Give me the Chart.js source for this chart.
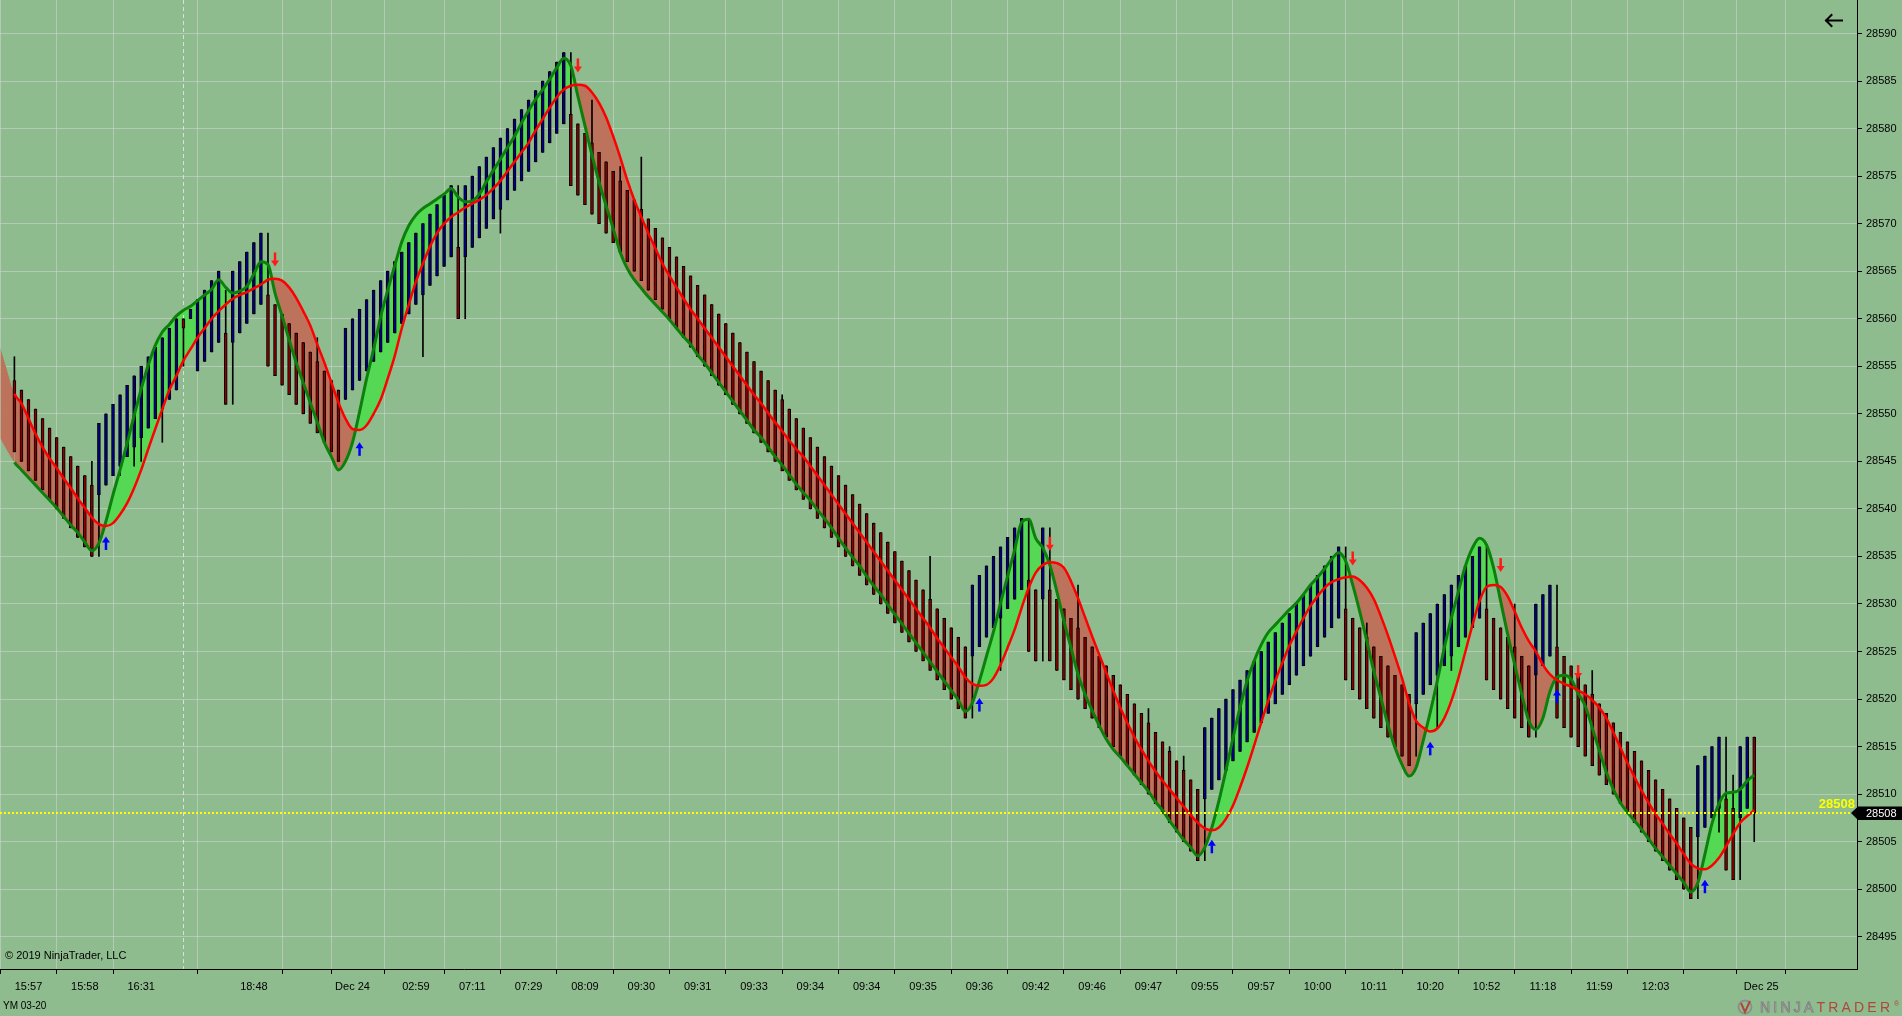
<!DOCTYPE html>
<html><head><meta charset="utf-8">
<script src="https://cdn.jsdelivr.net/npm/chart.js@4.4.1/dist/chart.umd.min.js"></script>
<style>html,body{margin:0;padding:0;background:#8FBC8F;overflow:hidden}#wrap{width:1902px;height:1016px}canvas{display:block}</style>
</head><body><div id="wrap"><canvas id="c" width="1902" height="1016"></canvas></div>
<script>
// ---------- DATA ----------
const barOpen=[28553.5,28552.5,28551.5,28550.5,28549.5,28548.5,28547.5,28546.5,28545.5,28544.5,
28543.5,28542.5,28541.5,28542.5,28543.5,28544.5,28545.5,28546.5,28547.5,28548.5,
28549.5,28550.5,28551.5,28552.5,28560,28560,28554.5,28555.5,28556.5,28557.5,
28558.5,28557.5,28558.5,28559.5,28560.5,28561.5,28562.5,28561.5,28560.5,28559.5,
28558.5,28557.5,28556.5,28555.5,28554.5,28553.5,28552.5,28551.5,28552.5,28553.5,
28554.5,28555.5,28556.5,28557.5,28558.5,28559.5,28560.5,28561.5,28562.5,28563.5,
28564.5,28565.5,28566.5,28567.5,28566.5,28567.5,28568.5,28569.5,28570.5,28571.5,
28572.5,28573.5,28574.5,28575.5,28576.5,28577.5,28578.5,28579.5,28580.5,28581.5,
28580.5,28579.5,28578.5,28577.5,28576.5,28575.5,28574.5,28573.5,28572.5,28571.5,
28570.5,28569.5,28568.5,28567.5,28566.5,28565.5,28564.5,28563.5,28562.5,28561.5,
28560.5,28559.5,28558.5,28557.5,28556.5,28555.5,28554.5,28553.5,28552.5,28551.5,
28550.5,28549.5,28548.5,28547.5,28546.5,28545.5,28544.5,28543.5,28542.5,28541.5,
28540.5,28539.5,28538.5,28537.5,28536.5,28535.5,28534.5,28533.5,28532.5,28531.5,
28530.5,28529.5,28528.5,28527.5,28526.5,28525.5,28524.5,28525.5,28526.5,28527.5,
28528.5,28529.5,28530.5,28531.5,28532.5,28531.5,28530.5,28531.5,28530.5,28529.5,
28528.5,28527.5,28526.5,28525.5,28524.5,28523.5,28522.5,28521.5,28520.5,28519.5,
28518.5,28517.5,28516.5,28515.5,28514.5,28513.5,28512.5,28511.5,28510.5,28509.5,
28510.5,28511.5,28512.5,28513.5,28514.5,28515.5,28516.5,28517.5,28518.5,28519.5,
28520.5,28521.5,28522.5,28523.5,28524.5,28525.5,28526.5,28527.5,28528.5,28529.5,
28528.5,28527.5,28526.5,28525.5,28524.5,28523.5,28522.5,28521.5,28520.5,28519.5,
28520.5,28521.5,28522.5,28523.5,28524.5,28525.5,28526.5,28527.5,28528.5,28529.5,
28528.5,28527.5,28526.5,28525.5,28524.5,28523.5,28522.5,28523.5,28524.5,28525.5,
28524.5,28523.5,28522.5,28521.5,28520.5,28519.5,28518.5,28517.5,28516.5,28515.5,
28514.5,28513.5,28512.5,28511.5,28510.5,28509.5,28508.5,28507.5,28506.5,28505.5,
28506.5,28507.5,28508.5,28509.5,28508.5,28507.5,28508.5,28516];

const barClose=[28546,28545,28544,28543,28542,28541,28540,28539,28538,28537,
28536,28535,28549,28550,28551,28552,28553,28554,28555,28556,
28557,28558,28559,28560,28559,28561,28562,28563,28564,28565,
28551,28565,28566,28567,28568,28569,28555,28554,28553,28552,
28551,28550,28549,28548,28547,28546,28545,28559,28560,28561,
28562,28563,28564,28565,28566,28567,28568,28569,28570,28571,
28572,28573,28574,28560,28574,28575,28576,28577,28578,28579,
28580,28581,28582,28583,28584,28585,28586,28587,28588,28574,
28573,28572,28571,28570,28569,28568,28567,28566,28565,28564,
28563,28562,28561,28560,28559,28558,28557,28556,28555,28554,
28553,28552,28551,28550,28549,28548,28547,28546,28545,28544,
28543,28542,28541,28540,28539,28538,28537,28536,28535,28534,
28533,28532,28531,28530,28529,28528,28527,28526,28525,28524,
28523,28522,28521,28520,28519,28518,28532,28533,28534,28535,
28536,28537,28538,28539,28525,28524,28538,28524,28523,28522,
28521,28520,28519,28518,28517,28516,28515,28514,28513,28512,
28511,28510,28509,28508,28507,28506,28505,28504,28503,28517,
28518,28519,28520,28521,28522,28523,28524,28525,28526,28527,
28528,28529,28530,28531,28532,28533,28534,28535,28536,28522,
28521,28520,28519,28518,28517,28516,28515,28514,28513,28527,
28528,28529,28530,28531,28532,28533,28534,28535,28536,28522,
28521,28520,28519,28518,28517,28516,28530,28531,28532,28518,
28517,28516,28515,28514,28513,28512,28511,28510,28509,28508,
28507,28506,28505,28504,28503,28502,28501,28500,28499,28513,
28514,28515,28516,28502,28501,28515,28516,28508];

const barHigh=[28556,28552.5,28551.5,28550.5,28549.5,28548.5,28547.5,28546.5,28545.5,28544.5,
28543.5,28545,28549,28550,28551,28552,28553,28554,28555,28556,
28557,28558,28559,28560,28560,28561,28562,28563,28564,28565,
28563,28565,28566,28567,28568,28569,28569,28561.5,28560.5,28559.5,
28558.5,28557.5,28556.5,28558,28554.5,28553.5,28552.5,28559,28560,28561,
28562,28563,28564,28565,28566,28567,28568,28569,28570,28571,
28572,28573,28574,28574,28574,28575,28576,28577,28578,28579,
28580,28581,28582,28583,28584,28585,28586,28587,28588,28588,
28580.5,28579.5,28583,28577.5,28576.5,28575.5,28576,28573.5,28572.5,28577,
28570.5,28569.5,28568.5,28567.5,28566.5,28565.5,28564.5,28563.5,28562.5,28561.5,
28560.5,28559.5,28558.5,28557.5,28556.5,28555.5,28554.5,28553.5,28552.5,28552,
28550.5,28549.5,28548.5,28547.5,28546.5,28545.5,28544.5,28543.5,28542.5,28541.5,
28540.5,28539.5,28538.5,28537.5,28536.5,28535.5,28534.5,28533.5,28532.5,28531.5,
28535,28529.5,28528.5,28527.5,28526.5,28525.5,28532,28533,28534,28535,
28536,28537,28538,28539,28539,28531.5,28538,28538,28530.5,28529.5,
28528.5,28532,28526.5,28525.5,28524.5,28523.5,28522.5,28521.5,28520.5,28519.5,
28518.5,28519,28516.5,28515.5,28515,28513.5,28514,28511.5,28510.5,28517,
28518,28519,28520,28521,28522,28523,28524,28525,28526,28527,
28528,28529,28530,28531,28532,28533,28534,28535,28536,28536,
28528.5,28527.5,28528,28525.5,28524.5,28523.5,28522.5,28521.5,28520.5,28527,
28528,28529,28530,28531,28532,28533,28534,28535,28536,28536,
28528.5,28527.5,28526.5,28530,28524.5,28523.5,28530,28531,28532,28532,
28524.5,28523.5,28522.5,28521.5,28523,28519.5,28518.5,28517.5,28516.5,28515.5,
28514.5,28513.5,28512.5,28511.5,28510.5,28509.5,28508.5,28507.5,28506.5,28513,
28514,28515,28516,28516,28512,28515,28516,28516];

const barLow=[28546,28545,28544,28543,28542,28541,28540,28539,28538,28537,
28536,28535,28535,28542.5,28543.5,28543.5,28545.5,28544.5,28545,28548.5,
28549.5,28547,28551.5,28552.5,28555,28560,28554.5,28555.5,28556.5,28557.5,
28551,28551,28558.5,28559.5,28560.5,28561.5,28555,28554,28553,28552,
28551,28550,28549,28548,28547,28546,28545,28551.5,28552.5,28553.5,
28554.5,28555.5,28556.5,28557.5,28558.5,28559.5,28560.5,28561.5,28556,28563.5,
28564.5,28565.5,28566.5,28560,28560,28567.5,28568.5,28569.5,28570.5,28569,
28572.5,28573.5,28574.5,28575.5,28576.5,28577.5,28578.5,28579.5,28580.5,28574,
28573,28572,28571,28570,28569,28568,28567,28566,28565,28564,
28563,28562,28561,28560,28559,28558,28557,28556,28555,28554,
28553,28552,28551,28550,28549,28548,28547,28546,28545,28544,
28543,28542,28541,28540,28539,28538,28537,28536,28535,28534,
28533,28532,28531,28530,28529,28528,28527,28526,28525,28524,
28523,28522,28521,28520,28519,28518,28518,28525.5,28526.5,28527.5,
28523,28529.5,28530.5,28531.5,28525,28524,28524,28524,28523,28522,
28521,28520,28519,28518,28517,28516,28515,28514,28513,28512,
28511,28510,28509,28508,28507,28506,28505,28504,28503,28503,
28510.5,28511.5,28512.5,28513.5,28514.5,28515.5,28516.5,28517.5,28518.5,28519.5,
28520.5,28521.5,28522.5,28523.5,28524.5,28525.5,28526.5,28527.5,28528.5,28522,
28521,28520,28519,28518,28517,28516,28515,28514,28513,28514,
28520.5,28521.5,28517,28523.5,28523,28525.5,28526.5,28527.5,28528.5,28522,
28521,28520,28519,28518,28517,28516,28516,28523.5,28524.5,28518,
28517,28516,28515,28514,28513,28512,28511,28510,28509,28508,
28507,28506,28505,28504,28503,28502,28501,28500,28499,28499,
28506.5,28507.5,28506,28502,28501,28501,28508.5,28505];

// fast (green) and slow (red) averages, one value per bar
const fastLine=[28544.9,28544.1,28543.3,28542.5,28541.7,28540.9,28540.1,28539.2,28538.3,28537.5,
28536.5,28535.6,28536.4,28538.7,28541.5,28544.1,28546.9,28549.8,28552.6,28555.1,
28557.2,28558.6,28559.4,28560.3,28560.9,28561.3,28561.9,28562.5,28563.1,28564.1,
28563.3,28562.7,28562.9,28563.4,28564.7,28566.0,28565.7,28562.7,28560.3,28557.8,
28555.4,28553.3,28551.2,28549.1,28547.0,28545.5,28544.1,28545.0,28547.0,28550.2,
28553.7,28556.8,28560.2,28563.0,28565.6,28568.1,28569.8,28570.9,28571.6,28572.1,
28572.6,28573.1,28573.7,28572.8,28572.3,28572.4,28573.1,28574.4,28575.6,28576.8,
28578.0,28579.2,28580.6,28581.9,28583.1,28584.1,28585.2,28586.4,28587.4,28586.6,
28583.4,28580.3,28577.2,28574.4,28571.9,28569.5,28567.0,28565.3,28564.1,28563.2,
28562.3,28561.5,28560.7,28559.9,28559.0,28558.1,28557.3,28556.2,28555.3,28554.3,
28553.3,28552.3,28551.3,28550.3,28549.3,28548.3,28547.5,28546.5,28545.5,28544.6,
28543.6,28542.6,28541.7,28540.9,28539.9,28539.0,28538.0,28536.9,28535.9,28534.9,
28534.0,28532.9,28531.9,28531.0,28529.9,28528.9,28527.9,28526.9,28525.9,28524.9,
28523.9,28522.9,28521.9,28520.9,28519.9,28518.7,28519.6,28521.9,28524.5,28527.1,
28530.1,28532.9,28535.7,28538.6,28538.9,28536.9,28535.9,28534.1,28531.3,28528.2,
28525.4,28522.6,28520.5,28518.8,28517.2,28515.8,28514.7,28513.9,28513.0,28512.1,
28511.2,28510.3,28509.2,28508.3,28507.2,28506.2,28505.2,28504.4,28503.5,28504.4,
28506.5,28509.3,28512.5,28515.9,28519.1,28521.9,28524.0,28525.7,28527.0,28527.8,
28528.6,28529.4,28530.1,28531.0,28532.0,28532.8,28533.7,28534.7,28535.4,28534.5,
28532.0,28529.2,28526.1,28522.9,28520.1,28517.3,28514.9,28513.1,28511.9,28512.8,
28515.6,28518.6,28521.9,28525.4,28528.5,28531.3,28534.0,28535.9,28536.9,28536.2,
28533.8,28530.3,28526.8,28523.6,28520.5,28517.7,28516.8,28518.0,28520.8,28522.3,
28522.5,28522.1,28520.6,28519.3,28517.0,28514.6,28512.3,28510.5,28509.1,28508.1,
28507.2,28506.3,28505.3,28504.3,28503.4,28502.5,28501.6,28500.7,28499.7,28500.7,
28503.7,28506.9,28509.0,28510.1,28510.2,28510.5,28511.4,28512.0];

const slowLine=[28552.1,28551.1,28549.5,28547.9,28546.5,28545.3,28544.3,28543.2,28542.2,28541.1,
28540.1,28539.1,28538.4,28538.2,28538.5,28539.4,28540.6,28542.2,28544.1,28546.3,
28548.4,28550.5,28552.5,28554.0,28555.6,28556.8,28558.0,28559.0,28560.0,28560.8,
28561.5,28562.1,28562.5,28562.8,28563.2,28563.6,28564.1,28564.2,28564.0,28563.3,
28562.2,28560.8,28559.3,28557.3,28555.4,28553.3,28551.2,28549.5,28548.4,28548.3,
28548.8,28550.0,28551.5,28553.7,28556.1,28559.0,28561.5,28563.9,28565.8,28567.6,
28569.0,28570.0,28570.7,28571.2,28571.7,28572.1,28572.5,28573.0,28573.7,28574.5,
28575.5,28576.5,28577.5,28578.5,28579.8,28581.0,28582.2,28583.3,28584.1,28584.5,
28584.6,28584.5,28583.8,28582.7,28581.2,28579.2,28577.0,28574.6,28572.5,28570.7,
28569.0,28567.4,28565.8,28564.5,28563.3,28562.1,28561.0,28560.0,28559.0,28558.0,
28557.0,28556.0,28555.0,28554.0,28553.0,28552.0,28551.1,28550.1,28549.1,28548.2,
28547.2,28546.3,28545.5,28544.5,28543.5,28542.5,28541.5,28540.5,28539.5,28538.5,
28537.5,28536.5,28535.5,28534.5,28533.5,28532.5,28531.5,28530.5,28529.5,28528.5,
28527.5,28526.4,28525.4,28524.4,28523.4,28522.3,28521.6,28521.4,28521.5,28522.2,
28523.6,28525.4,28527.3,28529.6,28531.7,28533.3,28534.1,28534.4,28534.3,28533.8,
28532.4,28530.6,28528.6,28526.6,28524.7,28522.8,28520.9,28519.1,28517.5,28516.0,
28514.7,28513.5,28512.4,28511.4,28510.5,28509.6,28508.7,28507.8,28507.0,28506.4,
28506.2,28506.5,28507.4,28508.8,28510.7,28512.8,28515.1,28517.5,28519.8,28521.9,
28523.8,28525.6,28527.1,28528.5,28529.8,28530.8,28531.7,28532.3,28532.6,28532.8,
28532.9,28532.5,28531.7,28530.5,28528.7,28526.7,28524.5,28522.2,28519.6,28517.7,
28517.0,28516.6,28516.9,28518.0,28519.8,28522.2,28525.0,28527.8,28530.3,28531.8,
28532.0,28531.8,28530.8,28529.2,28527.5,28526.1,28525.0,28523.6,28522.6,28522.0,
28521.6,28521.3,28520.9,28520.5,28519.9,28519.1,28518.0,28516.5,28514.9,28513.3,
28511.8,28510.4,28509.1,28507.9,28506.9,28505.8,28504.8,28503.7,28502.7,28502.2,
28502.1,28502.5,28503.3,28504.5,28505.8,28507.0,28507.7,28508.3];

// averages of the two bars left of the first visible one (only their fill shows)
const leadIdx=[-2,-1];
const fastLead=[28547.4,28546.1];
const slowLead=[28557.0,28554.5];

// crossover arrows
const upArrowIdx=[13,49,137,170,201,219,240];
const upArrowPrice=[28537.1,28547.0,28520.1,28505.2,28515.5,28521.0,28501.0];
const downArrowIdx=[37,80,147,190,211,222];
const downArrowPrice=[28565.5,28585.9,28535.6,28534.05,28533.35,28522.1];

// axes
const xTickIdx=[2,10,18,34,42,48,57,65,73,81,89,97,105,113,121,129,137,145,153,161,169,177,185,193,201,209,217,225,233,241,248];
const xTickLabels=['15:57','15:58','16:31','18:48','','Dec 24','02:59','07:11','07:29','08:09','09:30','09:31','09:33','09:34','09:34','09:35','09:36','09:42','09:46','09:47','09:55','09:57','10:00','10:11','10:20','10:52','11:18','11:59','12:03','','Dec 25'];
const yTicks=[28495,28500,28505,28510,28515,28520,28525,28530,28535,28540,28545,28550,28555,28560,28565,28570,28575,28580,28585,28590];
const sessionBreakIdx=24;
const lastPrice=28508;
const instrument='YM 03-20';
const copyright='\u00A9 2019 NinjaTrader, LLC';

// ---------- STYLE ----------
const BG='#8FBC8F';
const GRID='rgba(214,214,214,0.55)';
const FONT='"Liberation Sans", Arial, sans-serif';
Chart.defaults.font.family=FONT;

const wickData=barHigh.map((h,i)=>({x:i,y:[barLow[i],h]}));
const bodyData=barOpen.map((o,i)=>({x:i,y:[o,barClose[i]]}));
const bodyColors=barOpen.map((o,i)=>barClose[i]>=o?'#00008B':'#8B0000');
const fastData=leadIdx.map((x,k)=>({x,y:fastLead[k]})).concat(fastLine.map((y,i)=>({x:i,y})));
const slowData=leadIdx.map((x,k)=>({x,y:slowLead[k]})).concat(slowLine.map((y,i)=>({x:i,y})));
const hideLead={borderColor:ctx=>ctx.p0.parsed.x<0?'rgba(0,0,0,0)':undefined};

function arrow(ctx,x,yTip,up,color){
  const len=14,hw=4,hl=6;
  ctx.fillStyle=color;
  ctx.beginPath();
  if(up){
    ctx.moveTo(x,yTip);ctx.lineTo(x-hw,yTip+hl);ctx.lineTo(x+hw,yTip+hl);
  }else{
    ctx.moveTo(x,yTip);ctx.lineTo(x-hw,yTip-hl);ctx.lineTo(x+hw,yTip-hl);
  }
  ctx.closePath();ctx.fill();
  if(up) ctx.fillRect(x-1.25,yTip+hl-0.5,2.5,len-hl);
  else ctx.fillRect(x-1.25,yTip-len,2.5,len-hl+0.5);
}

const decor={
  id:'decor',
  beforeDraw(chart){
    const c=chart.ctx;c.save();c.fillStyle=BG;c.fillRect(0,0,chart.width,chart.height);c.restore();
  },
  beforeDatasetsDraw(chart){
    const {ctx,chartArea:a,scales:{x}}=chart;
    const px=Math.round(x.getPixelForValue(sessionBreakIdx))+0.5;
    ctx.save();ctx.strokeStyle='rgba(230,230,230,0.85)';ctx.lineWidth=1;ctx.setLineDash([4,3]);
    ctx.beginPath();ctx.moveTo(px,a.top);ctx.lineTo(px,a.bottom);ctx.stroke();ctx.restore();
  },
  afterDatasetsDraw(chart){
    const {ctx,chartArea:a,scales:{x,y}}=chart;
    ctx.save();
    ctx.beginPath();ctx.rect(a.left,a.top,a.right-a.left,a.bottom-a.top);ctx.clip();
    upArrowIdx.forEach((i,k)=>arrow(ctx,x.getPixelForValue(i),y.getPixelForValue(upArrowPrice[k]),true,'#0000FF'));
    downArrowIdx.forEach((i,k)=>arrow(ctx,x.getPixelForValue(i),y.getPixelForValue(downArrowPrice[k]),false,'#FF1A1A'));
    ctx.restore();
  },
  afterDraw(chart){
    const {ctx,chartArea:a,scales:{y}}=chart;
    const W=chart.width;
    const yl=Math.round(y.getPixelForValue(lastPrice));
    ctx.save();
    // last price dotted line
    ctx.strokeStyle='#FFFF00';ctx.lineWidth=2;ctx.setLineDash([2,2]);
    ctx.beginPath();ctx.moveTo(0,yl);ctx.lineTo(a.right-6,yl);ctx.stroke();
    ctx.setLineDash([]);
    ctx.font='bold 13px '+FONT;ctx.fillStyle='#FFFF00';ctx.textAlign='right';ctx.textBaseline='middle';
    ctx.fillText(String(lastPrice),a.right-2,yl-8.5);
    // price marker on axis
    ctx.fillStyle='#000';ctx.beginPath();
    ctx.moveTo(a.right-6,yl);ctx.lineTo(a.right+1,yl-6.5);ctx.lineTo(W,yl-6.5);ctx.lineTo(W,yl+7);ctx.lineTo(a.right+1,yl+7);ctx.closePath();ctx.fill();
    ctx.font='11px '+FONT;ctx.fillStyle='#FFF';ctx.textAlign='left';
    ctx.fillText(String(lastPrice),a.right+9,yl+0.5);
    // texts
    ctx.fillStyle='#000';ctx.font='11px '+FONT;ctx.textBaseline='middle';
    ctx.fillText(copyright,5,956);
    ctx.font='10px '+FONT;ctx.fillText(instrument,3,1006);
    // back arrow top right
    ctx.strokeStyle='#000';ctx.lineWidth=2;ctx.lineCap='square';
    ctx.beginPath();ctx.moveTo(1826,20.5);ctx.lineTo(1842,20.5);
    ctx.moveTo(1831.5,15);ctx.lineTo(1826,20.5);ctx.lineTo(1831.5,26);ctx.stroke();
    // logo
    ctx.lineCap='butt';
    ctx.strokeStyle='#8f8f8f';ctx.lineWidth=2;
    ctx.beginPath();ctx.arc(1745,1007,6.5,0,Math.PI*2);ctx.stroke();
    ctx.strokeStyle='#b0473b';ctx.lineWidth=2;
    ctx.beginPath();ctx.moveTo(1741,1003);ctx.lineTo(1745,1012);ctx.lineTo(1750,1001);ctx.stroke();
    ctx.font='14px '+FONT;ctx.textBaseline='middle';ctx.textAlign='left';
    try{ctx.letterSpacing='3.2px';}catch(e){}
    ctx.fillStyle='#c4c4c4';ctx.fillText('NINJA',1760,1008);
    ctx.strokeStyle='#7c7c7c';ctx.lineWidth=0.8;ctx.strokeText('NINJA',1760,1008);
    const wN=ctx.measureText('NINJA').width;
    ctx.fillStyle='#b0473b';ctx.fillText('TRADER',1760+wN,1008);
    try{ctx.letterSpacing='0px';}catch(e){}
    ctx.font='7px '+FONT;ctx.fillText('\u00AE',1894,1004);
    ctx.restore();
  }
};

new Chart(document.getElementById('c'),{
  type:'bar',
  data:{datasets:[
    {type:'line',label:'fast',data:fastData,borderColor:'#0B800B',borderWidth:3,pointRadius:0,
     cubicInterpolationMode:'monotone',segment:hideLead,order:2,
     fill:{target:1,above:'#55D955',below:'#BD735B'}},
    {type:'line',label:'slow',data:slowData,borderColor:'#FF0000',borderWidth:2.5,pointRadius:0,
     cubicInterpolationMode:'monotone',segment:hideLead,order:1,fill:false},
    {type:'bar',label:'body',data:bodyData,backgroundColor:bodyColors,borderColor:'#000',borderWidth:1,
     borderSkipped:false,barThickness:3,grouped:false,order:3},
    {type:'bar',label:'wick',data:wickData,backgroundColor:'#000',borderWidth:0,
     barThickness:1,grouped:false,order:4}
  ]},
  options:{
    responsive:false,animation:false,devicePixelRatio:1,
    layout:{padding:0},
    plugins:{legend:{display:false},tooltip:{enabled:false},filler:{drawTime:'beforeDatasetsDraw'}},
    scales:{
      x:{type:'linear',position:'bottom',min:-2.044,max:261.59,offset:false,
         afterBuildTicks:s=>{s.ticks=xTickIdx.map(v=>({value:v}));},
         afterFit:s=>{s.height=47;s.paddingLeft=0;s.paddingRight=0;},
         ticks:{autoSkip:false,maxRotation:0,minRotation:0,padding:6,color:'#000',font:{size:11},
                callback:(v,i)=>xTickLabels[i]},
         grid:{color:GRID,lineWidth:1,tickLength:5,tickColor:'#000'},
         border:{display:true,color:'#000',width:1}},
      y:{type:'linear',position:'right',min:28491.61,max:28593.52,
         afterBuildTicks:s=>{s.ticks=yTicks.map(v=>({value:v}));},
         afterFit:s=>{s.width=45;s.paddingTop=0;s.paddingBottom=0;},
         ticks:{padding:4,color:'#000',font:{size:11},callback:v=>String(v)},
         grid:{color:GRID,lineWidth:1,tickLength:5,tickColor:'#000'},
         border:{display:true,color:'#000',width:1}}
    }
  },
  plugins:[decor]
});
</script>
</body></html>
